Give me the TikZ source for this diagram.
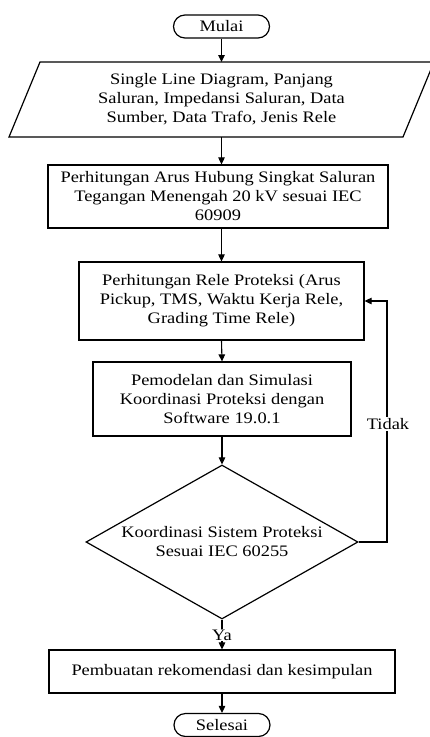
\documentclass[tikz,border=0pt]{standalone}
\usepackage{fontspec}
\setmainfont[FakeStretch=1.15]{Liberation Serif}
\usetikzlibrary{arrows.meta,shapes.geometric}
\begin{document}
\begin{tikzpicture}[x=1pt,y=-1pt,
  every node/.style={font=\fontsize{16}{19}\selectfont, align=center, inner sep=0pt},
  box/.style={draw, line width=1.2pt, rectangle},
  term/.style={draw, line width=1.2pt, rectangle, rounded corners=11.5pt, minimum width=96pt, minimum height=23pt},
  arr/.style={line width=1.1pt, -{Triangle[length=7pt,width=6.5pt]}},
  lbl/.style={fill=white, inner sep=1pt}
]
\clip (0,0) rectangle (430,737);
\useasboundingbox (0,0) rectangle (430,737);
\fill[white] (0,0) rectangle (430,737);

\node[term] (mulai) at (221.5,26.5) {Mulai};

% parallelogram
\node (in) at (221.5,99.5) {Single Line Diagram, Panjang\\Saluran, Impedansi Saluran, Data\\Sumber, Data Trafo, Jenis Rele};
\draw[line width=1.2pt] (40,62) -- (434,62) -- (403,137) -- (9,137) -- cycle;
\coordinate (inN) at (221.5,62);
\coordinate (inS) at (221.5,137);

\node[box, minimum width=340pt, minimum height=63pt] (b2) at (218,196.5)
  {Perhitungan Arus Hubung Singkat Saluran\\Tegangan Menengah 20 kV sesuai IEC\\60909};
\node[box, minimum width=285pt, minimum height=78pt] (b3) at (221.5,301)
  {Perhitungan Rele Proteksi (Arus\\Pickup, TMS, Waktu Kerja Rele,\\Grading Time Rele)};
\node[box, minimum width=258pt, minimum height=74pt] (b4) at (222,399)
  {Pemodelan dan Simulasi\\Koordinasi Proteksi dengan\\Software 19.0.1};
\node[draw, line width=1.2pt, shape=diamond, aspect=1.766, minimum width=272pt, minimum height=154pt] (dec) at (222,542)
  {Koordinasi Sistem Proteksi\\Sesuai IEC 60255};
\node[box, minimum width=346pt, minimum height=43pt] (b5) at (222,671.5)
  {Pembuatan rekomendasi dan kesimpulan};
\node[term] (selesai) at (222,725) {Selesai};

\draw[arr] (mulai.south) -- (inN);
\draw[arr] (inS) -- (inS |- b2.north);
\draw[arr] (inS |- b2.south) -- (b3.north);
\draw[arr] (b3.south) -- (b4.north);
\draw[arr] (b4.south) -- (dec.north);
\draw[arr] (dec.south) -- (b5.north);
\draw[arr] (b5.south) -- (selesai.north);

\coordinate (lp) at (387,542);
\draw[arr] (dec.east) -- (lp) |- (b3.east);
\node[lbl] (tidak) at (388,424) {Tidak};
\node[lbl] (ya) at (222,635) {Ya};
\end{tikzpicture}
\end{document}
